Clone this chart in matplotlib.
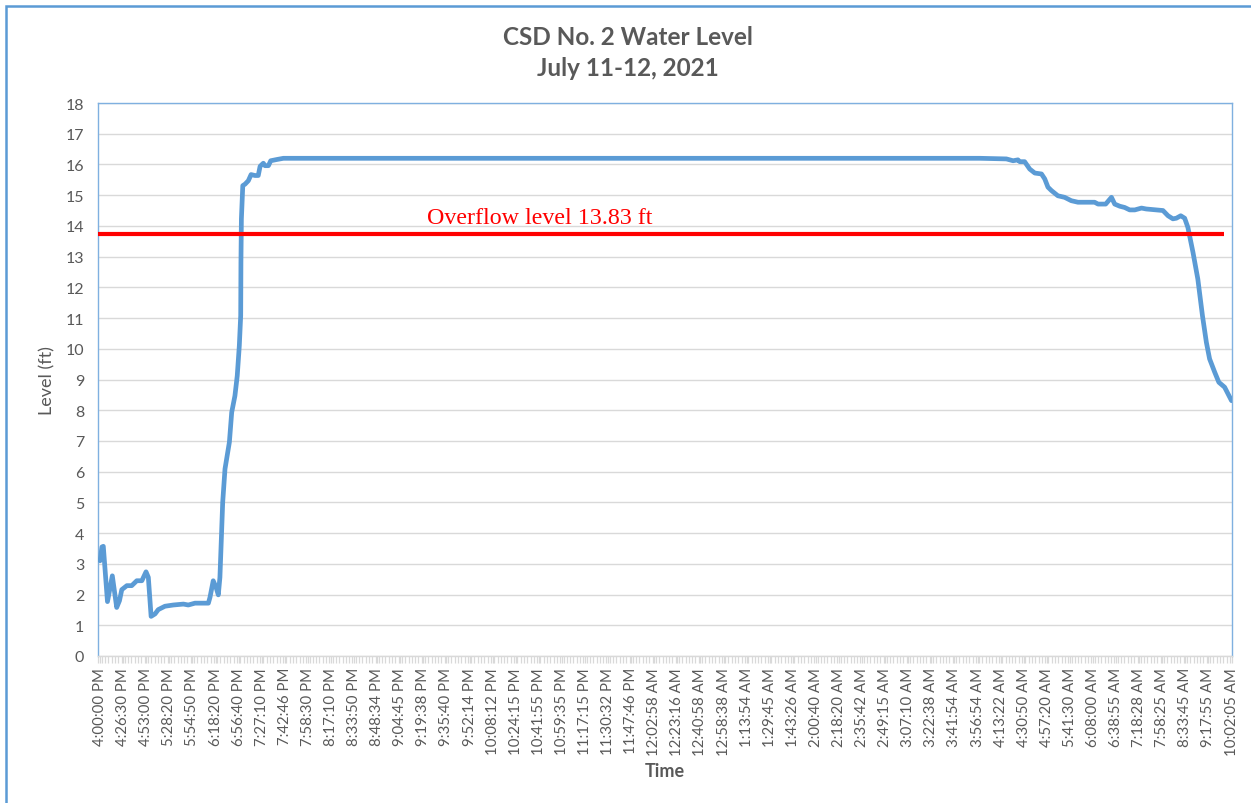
import matplotlib
matplotlib.use("Agg")
import matplotlib.pyplot as plt
from matplotlib.patches import Rectangle
from matplotlib.ticker import MultipleLocator, FixedLocator
import numpy as np

# ---------------- data ----------------
time_labels = [
    "4:00:00 PM", "4:26:30 PM", "4:53:00 PM", "5:28:20 PM", "5:54:50 PM", "6:18:20 PM",
    "6:56:40 PM", "7:27:10 PM", "7:42:46 PM", "7:58:30 PM", "8:17:10 PM", "8:33:50 PM",
    "8:48:34 PM", "9:04:45 PM", "9:19:38 PM", "9:35:40 PM", "9:52:14 PM", "10:08:12 PM",
    "10:24:15 PM", "10:41:55 PM", "10:59:35 PM", "11:17:15 PM", "11:30:32 PM", "11:47:46 PM",
    "12:02:58 AM", "12:23:16 AM", "12:40:58 AM", "12:58:38 AM", "1:13:54 AM", "1:29:45 AM",
    "1:43:26 AM", "2:00:40 AM", "2:18:20 AM", "2:35:42 AM", "2:49:15 AM", "3:07:10 AM",
    "3:22:38 AM", "3:41:54 AM", "3:56:54 AM", "4:13:22 AM", "4:30:50 AM", "4:57:20 AM",
    "5:41:30 AM", "6:08:00 AM", "6:38:55 AM", "7:18:28 AM", "7:58:25 AM", "8:33:45 AM",
    "9:17:55 AM", "10:02:05 AM",
]

# position along the category axis (in units of tick-label intervals) and level (ft)
pos = [0.0, 0.08, 0.14, 0.32, 0.53, 0.72, 0.84, 0.94, 1.16, 1.37, 1.59, 1.81, 1.99, 2.09,
       2.21, 2.38, 2.52, 2.81, 3.17, 3.61, 3.82, 4.11, 4.69, 4.76, 4.90, 5.02, 5.12, 5.19,
       5.31, 5.41, 5.60, 5.70, 5.84, 5.94, 6.03, 6.09, 6.10, 6.12, 6.18, 6.28, 6.42, 6.54,
       6.71, 6.85, 6.93, 7.07, 7.14, 7.29, 7.39, 7.65, 7.94,
       38.10, 39.25, 39.54, 39.75, 39.83, 40.04, 40.26, 40.48, 40.77, 40.91, 41.05, 41.20,
       41.48, 41.77, 42.06, 42.35, 43.07, 43.22, 43.55, 43.80, 43.94, 44.16, 44.37, 44.59,
       44.81, 45.10, 45.31, 45.60, 46.03, 46.25, 46.46, 46.61, 46.80, 46.97, 47.11, 47.33,
       47.54, 47.74, 47.91, 48.05, 48.27, 48.45, 48.70, 49.0]
level = [3.10, 3.55, 3.57, 1.77, 2.61, 1.58, 1.80, 2.16, 2.29, 2.29, 2.45, 2.45, 2.74, 2.56,
         1.29, 1.37, 1.51, 1.62, 1.66, 1.69, 1.66, 1.72, 1.72, 1.91, 2.45, 2.24, 1.99, 2.56,
         5.00, 6.09, 6.96, 7.93, 8.47, 9.12, 10.10, 11.08, 12.81, 14.23, 15.31, 15.36, 15.47,
         15.67, 15.64, 15.64, 15.94, 16.04, 15.96, 15.96, 16.12, 16.16, 16.20,
         16.20, 16.18, 16.12, 16.15, 16.09, 16.09, 15.85, 15.72, 15.69, 15.53, 15.26, 15.15,
         14.98, 14.93, 14.82, 14.77, 14.77, 14.71, 14.71, 14.93, 14.71, 14.64, 14.60, 14.52,
         14.52, 14.58, 14.55, 14.53, 14.50, 14.33, 14.23, 14.25, 14.33, 14.25, 13.95, 13.14,
         12.27, 11.08, 10.21, 9.67, 9.24, 8.91, 8.75, 8.31]

overflow_label = "Overflow level 13.83 ft"
overflow_drawn = 13.73
overflow_end = 48.66

# ---------------- styling ----------------
SANS = ["Lato", "DejaVu Sans"]
GRAY = "#595959"
GRID = "#d9d9d9"
LINE = "#5b9bd5"

fig = plt.figure(figsize=(12.51, 8.04), dpi=100)
fig.patch.set_facecolor("white")

# outer chart border (cut at right / bottom like the reference)
fig.patches.append(Rectangle((6 / 1251, -0.05), 1.2, 1 - 7 / 804 + 0.05,
                             transform=fig.transFigure, fill=False,
                             edgecolor="#5b9bd5", linewidth=1.8, zorder=0))

ax = fig.add_axes([98 / 1251, 1 - 657 / 804, (1232 - 98) / 1251, (657 - 104) / 804])

ax.plot(pos, level, color=LINE, linewidth=3.4, solid_capstyle="round",
        solid_joinstyle="round", zorder=3)

ax.plot([-0.09, overflow_end], [overflow_drawn, overflow_drawn], color="#ff0000",
        linewidth=3.0, zorder=4, solid_capstyle="butt")
ax.text(14.16, overflow_drawn + 0.2, overflow_label, color="#ff0000",
        fontfamily=["Liberation Serif", "DejaVu Serif"], fontsize=17.3, va="bottom",
        ha="left", zorder=5)

ax.set_xlim(-0.09, 49.02)
ax.set_ylim(0, 18)
ax.yaxis.set_major_locator(MultipleLocator(1))
ax.grid(axis="y", color=GRID, linewidth=1.0, zorder=0)
ax.set_axisbelow(True)

ax.xaxis.set_major_locator(FixedLocator(range(len(time_labels))))
ax.set_xticklabels(time_labels, rotation=90, fontfamily=SANS, fontsize=10.8, color=GRAY)
ax.xaxis.set_minor_locator(FixedLocator(np.arange(-0.5 / 7, 49.02, 1 / 7)))
ax.tick_params(axis="x", which="both", length=5, color=GRID, width=0.9, pad=3)
ax.tick_params(axis="y", length=0, pad=10, labelsize=11.5, labelcolor=GRAY)
for lab in ax.get_yticklabels():
    lab.set_fontfamily(SANS)

for side in ("top", "left", "right"):
    ax.spines[side].set_color("#7fb0e0")
    ax.spines[side].set_linewidth(1.0)
ax.spines["bottom"].set_color(GRID)
ax.spines["bottom"].set_linewidth(1.0)

ax.set_ylabel("Level (ft)", fontfamily=SANS, fontsize=13, color=GRAY, labelpad=7)
ax.set_xlabel("Time", fontfamily=SANS, fontsize=13, fontweight="bold", color=GRAY,
              labelpad=5)

fig.text(628 / 1251, 1 - 53 / 804, "CSD No. 2 Water Level\nJuly 11-12, 2021",
         ha="center", va="center", fontfamily=SANS, fontsize=17.5, fontweight="bold",
         color=GRAY, linespacing=1.4)

fig.savefig("out.png", dpi=100)
